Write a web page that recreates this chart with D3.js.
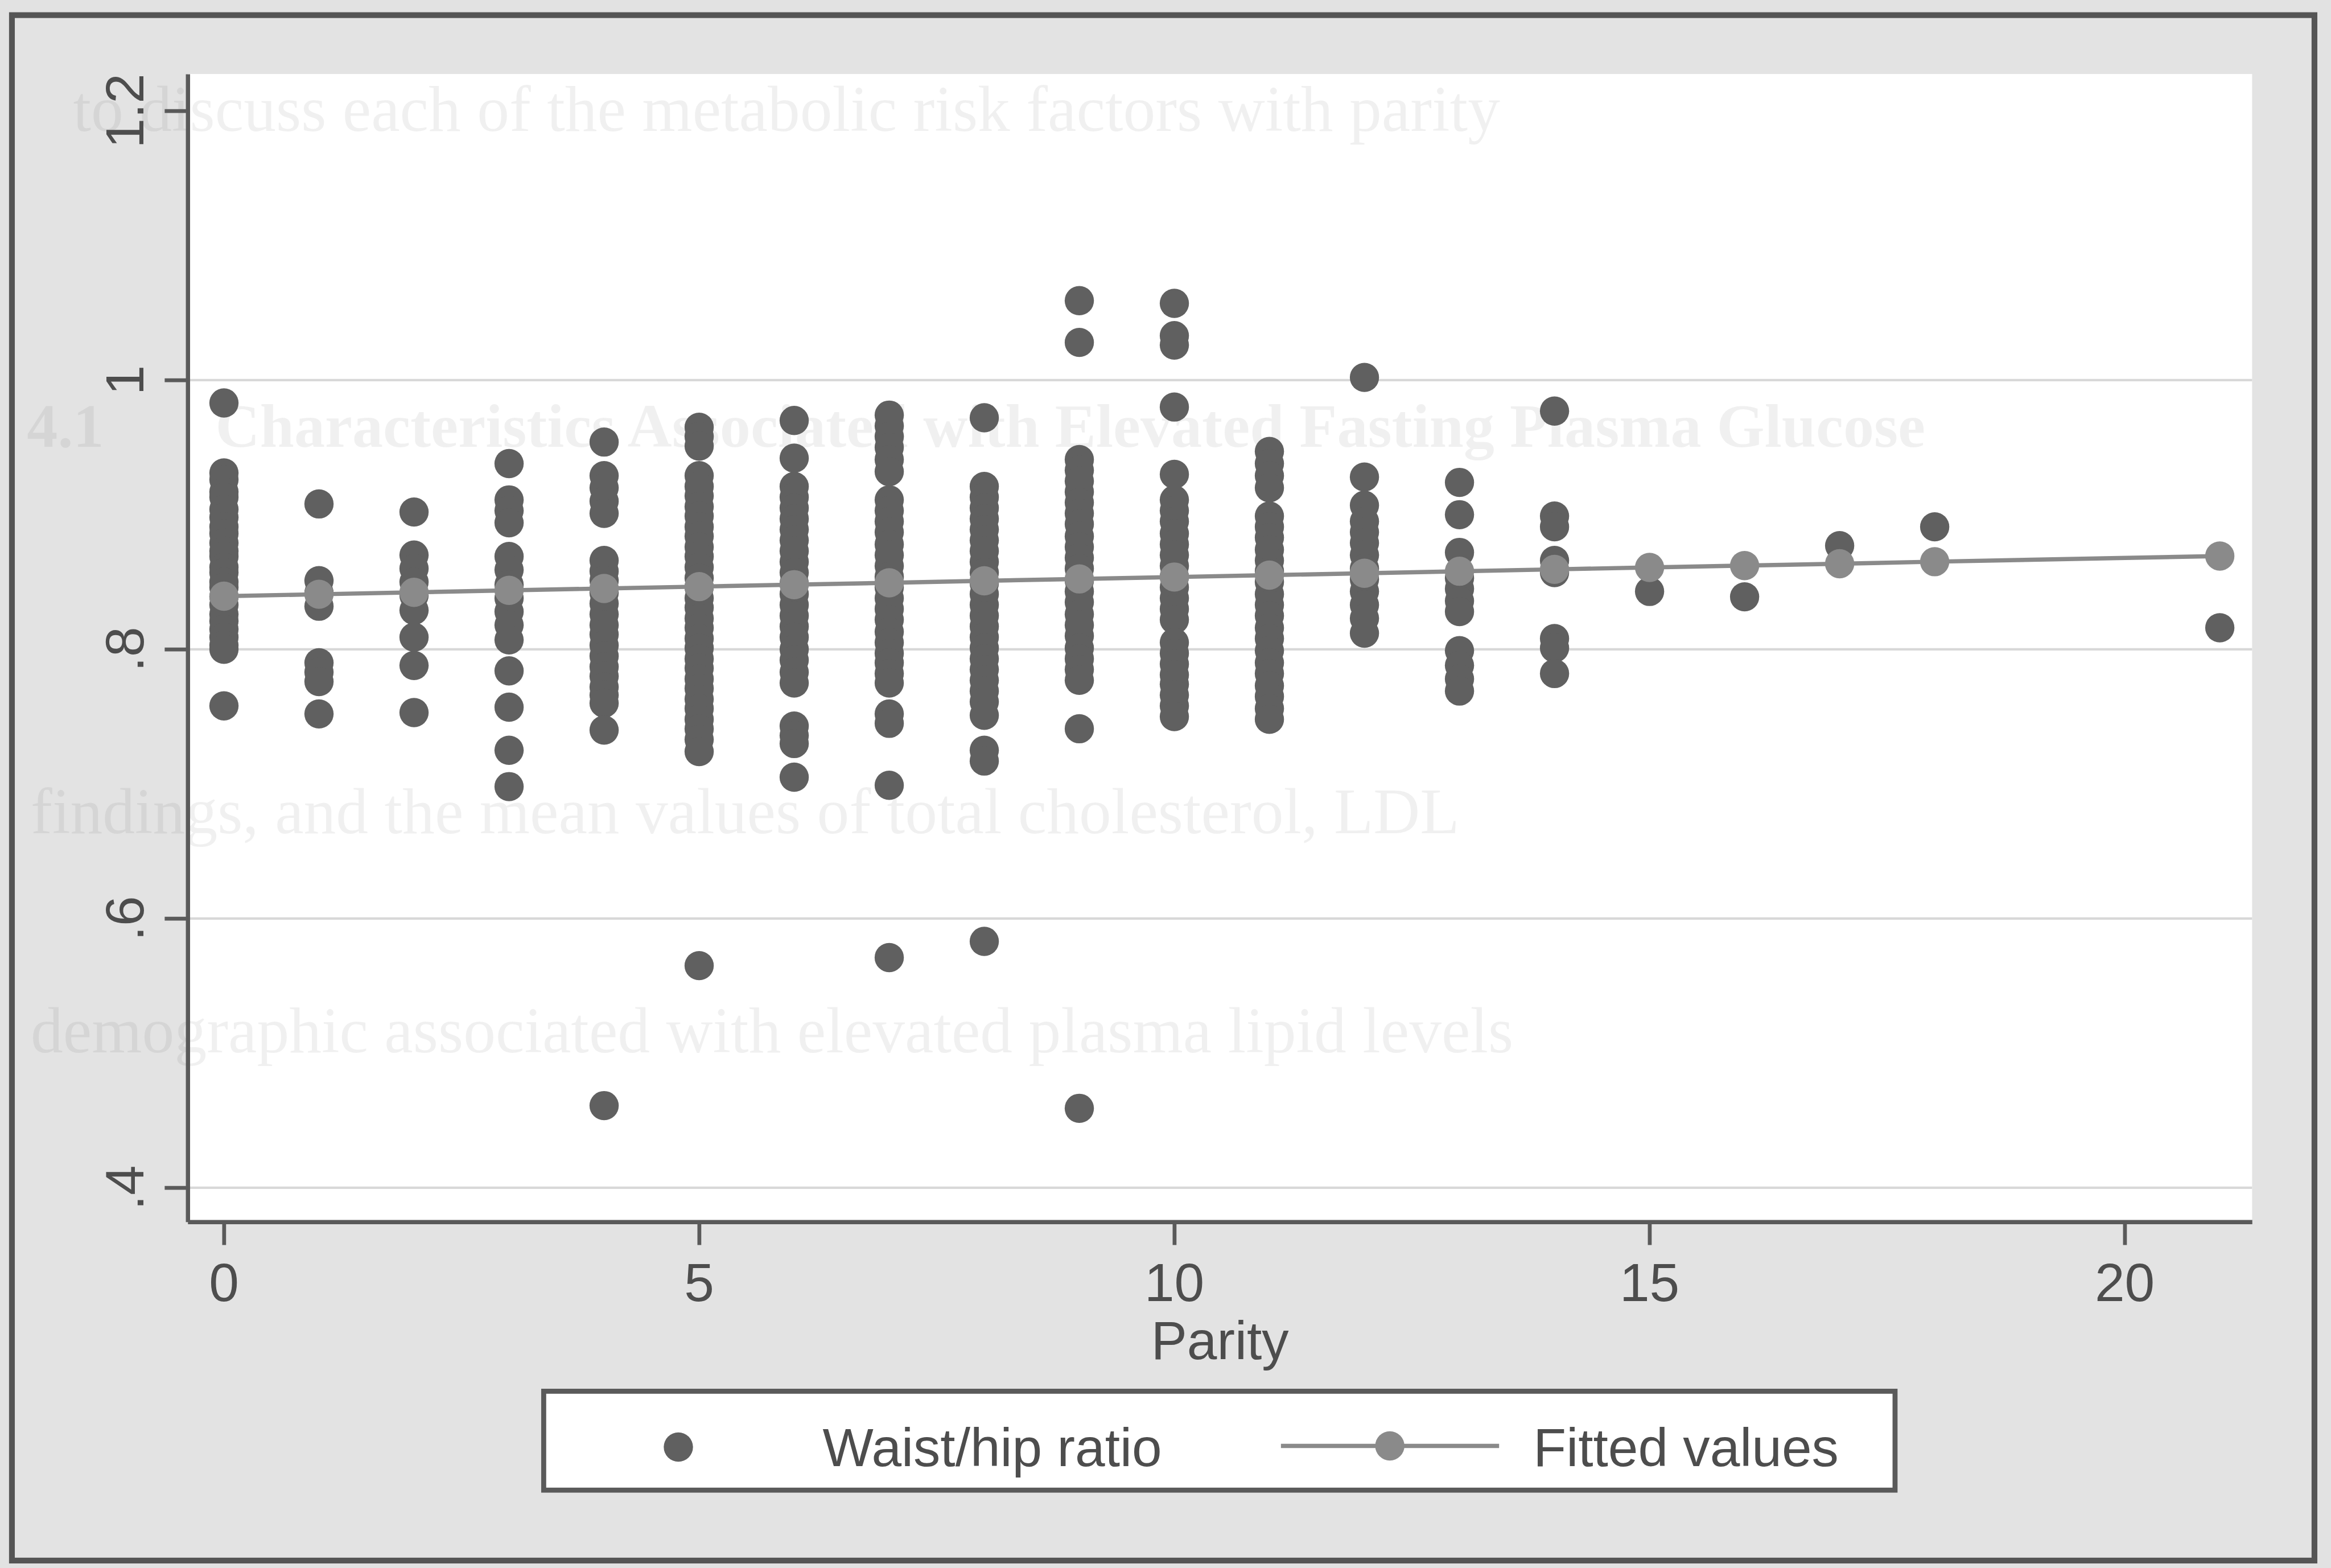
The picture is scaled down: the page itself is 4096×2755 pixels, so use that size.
<!DOCTYPE html>
<html>
<head>
<meta charset="utf-8">
<script src="https://cdn.jsdelivr.net/npm/d3@7/dist/d3.min.js"></script>
<style>
  html, body { margin: 0; padding: 0; background: #e2e2e2; }
  svg { display: block; }
  text { font-family: "Liberation Sans", Arial, sans-serif; }
  text.page { font-family: "Liberation Serif", "Times New Roman", serif; }
</style>
</head>
<body>
<svg id="chart"></svg>
<script>
// Waist/hip ratio by parity (each array holds the observations at one parity value)
const whrP0 = [0.983, 0.931, 0.926, 0.917, 0.913, 0.904, 0.898, 0.891, 0.886, 0.879, 0.873, 0.869, 0.861, 0.857, 0.850, 0.846, 0.839, 0.833, 0.826, 0.821, 0.815, 0.809, 0.803, 0.800, 0.758];
const whrP1 = [0.908, 0.851, 0.842, 0.832, 0.790, 0.783, 0.776, 0.752];
const whrP2 = [0.902, 0.870, 0.860, 0.850, 0.840, 0.829, 0.809, 0.788, 0.753];
const whrP3 = [0.938, 0.911, 0.903, 0.894, 0.869, 0.859, 0.848, 0.838, 0.828, 0.818, 0.807, 0.784, 0.757, 0.725, 0.698];
const whrP4 = [0.954, 0.929, 0.920, 0.910, 0.901, 0.866, 0.858, 0.851, 0.842, 0.834, 0.826, 0.818, 0.811, 0.803, 0.795, 0.787, 0.780, 0.772, 0.766, 0.760, 0.740, 0.461];
const whrP5 = [0.965, 0.958, 0.951, 0.929, 0.921, 0.914, 0.906, 0.899, 0.891, 0.884, 0.876, 0.869, 0.861, 0.853, 0.846, 0.838, 0.831, 0.823, 0.816, 0.808, 0.801, 0.793, 0.786, 0.778, 0.771, 0.763, 0.756, 0.748, 0.741, 0.733, 0.724, 0.565];
const whrP6 = [0.970, 0.942, 0.921, 0.913, 0.905, 0.897, 0.889, 0.881, 0.873, 0.865, 0.857, 0.849, 0.841, 0.833, 0.825, 0.817, 0.809, 0.800, 0.792, 0.783, 0.775, 0.743, 0.736, 0.730, 0.705];
const whrP7 = [0.974, 0.966, 0.958, 0.950, 0.941, 0.932, 0.911, 0.903, 0.895, 0.887, 0.878, 0.870, 0.862, 0.854, 0.846, 0.838, 0.830, 0.822, 0.813, 0.805, 0.797, 0.790, 0.782, 0.775, 0.752, 0.745, 0.699, 0.571];
const whrP8 = [0.972, 0.921, 0.913, 0.905, 0.897, 0.889, 0.881, 0.873, 0.865, 0.857, 0.849, 0.841, 0.833, 0.825, 0.817, 0.809, 0.801, 0.793, 0.785, 0.777, 0.769, 0.761, 0.751, 0.725, 0.717, 0.583];
const whrP9 = [1.059, 1.028, 0.941, 0.933, 0.925, 0.917, 0.909, 0.901, 0.893, 0.884, 0.876, 0.868, 0.860, 0.851, 0.843, 0.835, 0.826, 0.818, 0.810, 0.801, 0.793, 0.785, 0.777, 0.741, 0.459];
const whrP10 = [1.057, 1.033, 1.026, 0.980, 0.930, 0.911, 0.903, 0.895, 0.886, 0.878, 0.870, 0.862, 0.854, 0.846, 0.838, 0.830, 0.822, 0.805, 0.797, 0.789, 0.781, 0.774, 0.766, 0.758, 0.750];
const whrP11 = [0.947, 0.938, 0.929, 0.920, 0.899, 0.891, 0.883, 0.874, 0.866, 0.858, 0.850, 0.841, 0.833, 0.825, 0.816, 0.808, 0.799, 0.790, 0.782, 0.773, 0.765, 0.756, 0.748];
const whrP12 = [1.002, 0.928, 0.907, 0.895, 0.887, 0.879, 0.870, 0.860, 0.852, 0.843, 0.833, 0.823, 0.812];
const whrP13 = [0.924, 0.900, 0.872, 0.853, 0.845, 0.836, 0.828, 0.799, 0.788, 0.778, 0.769];
const whrP14 = [0.977, 0.899, 0.891, 0.866, 0.857, 0.808, 0.801, 0.782];
const whrP15 = [0.843];
const whrP16 = [0.839];
const whrP17 = [0.877];
const whrP18 = [0.891];
const whrP21 = [0.816];

const parityLevels = [0, 1, 2, 3, 4, 5, 6, 7, 8, 9, 10, 11, 12, 13, 14, 15, 16, 17, 18, 21];
const whrSeries = [whrP0, whrP1, whrP2, whrP3, whrP4, whrP5, whrP6, whrP7, whrP8, whrP9, whrP10,
                   whrP11, whrP12, whrP13, whrP14, whrP15, whrP16, whrP17, whrP18, whrP21];

// Linear fit of waist/hip ratio on parity, at each observed parity value
const fittedValues = [0.8395, 0.8409, 0.8423, 0.8438, 0.8452, 0.8466, 0.8480, 0.8494, 0.8509, 0.8523, 0.8537,
                      0.8551, 0.8565, 0.8580, 0.8594, 0.8608, 0.8622, 0.8636, 0.8651, 0.8693];

const xTicks = [0, 5, 10, 15, 20];
const yTicks = [0.4, 0.6, 0.8, 1.0, 1.2];
const yTickLabels = [".4", ".6", ".8", "1", "1.2"];
const xTitle = "Parity";
const legendLabels = ["Waist/hip ratio", "Fitted values"];

// faint lines of the printed page that show through the figure
const pageLines = [
  "to discuss each of the metabolic risk factors with parity",
  "4.1",
  "Characteristics Associated with Elevated Fasting Plasma Glucose",
  "findings, and the mean values of total cholesterol, LDL",
  "demographic associated with elevated plasma lipid levels"
];

// ---- drawing (coordinates in a 6058 x 4074 design space, scaled to the window) ----
const W = 6058, H = 4074;
const svg = d3.select("#chart")
  .attr("width", 4096).attr("height", 2755)
  .attr("viewBox", `0 0 ${W} ${H}`);

const dotColor = "#606060";
const fitColor = "#8a8a8a";
const axisColor = "#5a5a5a";
const textColor = "#4d4d4d";
const R = 38;

// page and graph region
svg.append("rect").attr("width", W).attr("height", H).attr("fill", "#e2e2e2");
svg.append("rect").attr("x", 31).attr("y", 39).attr("width", 5984).attr("height", 4016)
  .attr("fill", "#e3e3e3").attr("stroke", "#555555").attr("stroke-width", 15);

const plot = { left: 488, right: 5853, top: 192, bottom: 3175 };
svg.append("rect").attr("x", plot.left).attr("y", plot.top)
  .attr("width", plot.right - plot.left).attr("height", plot.bottom - plot.top)
  .attr("fill", "#ffffff");

// show-through text, very faint
const ghostPos = [[190, 340], [70, 1160], [560, 1160], [80, 2165], [80, 2735]];
const ghostSize = [168, 160, 160, 168, 168];
svg.append("g").selectAll("text").data(pageLines).join("text")
  .attr("class", "page")
  .attr("x", (d, i) => ghostPos[i][0]).attr("y", (d, i) => ghostPos[i][1])
  .attr("font-size", (d, i) => ghostSize[i])
  .attr("font-weight", (d, i) => (i === 1 || i === 2) ? "bold" : "normal")
  .attr("fill", "#000").attr("fill-opacity", 0.06)
  .text(d => d);

const x = d3.scaleLinear().domain([-0.3806, 21.34]).range([plot.left, plot.right]);
const y = d3.scaleLinear().domain([0.3746, 1.2274]).range([plot.bottom, plot.top]);

// horizontal grid lines
svg.append("g").selectAll("line")
  .data(yTicks.filter(v => v < 1.1))
  .join("line")
  .attr("x1", plot.left).attr("x2", plot.right)
  .attr("y1", d => y(d)).attr("y2", d => y(d))
  .attr("stroke", "#d8d8d8").attr("stroke-width", 6);

// axes
const yAxis = svg.append("g").attr("transform", `translate(${plot.left},0)`)
  .call(d3.axisLeft(y).tickValues(yTicks).tickSize(60).tickSizeOuter(0).tickFormat(""));
const xAxis = svg.append("g").attr("transform", `translate(0,${plot.bottom})`)
  .call(d3.axisBottom(x).tickValues(xTicks).tickSize(60).tickSizeOuter(0).tickFormat(""));
[yAxis, xAxis].forEach(g => {
  g.select(".domain").attr("stroke", axisColor).attr("stroke-width", 11);
  g.selectAll(".tick line").attr("stroke", axisColor).attr("stroke-width", 10);
});

// tick labels
svg.append("g").selectAll("text")
  .data(yTicks)
  .join("text")
  .attr("transform", d => `translate(372,${y(d)}) rotate(-90)`)
  .attr("text-anchor", "middle")
  .attr("font-size", 140).attr("fill", textColor)
  .text((d, i) => yTickLabels[i]);

svg.append("g").selectAll("text")
  .data(xTicks)
  .join("text")
  .attr("x", d => x(d)).attr("y", 3380)
  .attr("text-anchor", "middle")
  .attr("font-size", 140).attr("fill", textColor)
  .text(d => d);

svg.append("text").attr("x", (plot.left + plot.right) / 2).attr("y", 3532)
  .attr("text-anchor", "middle").attr("font-size", 140).attr("fill", textColor)
  .text(xTitle);

// scatter points
const points = [];
whrSeries.forEach((vals, i) => vals.forEach(v => points.push({ p: parityLevels[i], v })));
svg.append("g").selectAll("circle")
  .data(points)
  .join("circle")
  .attr("cx", d => x(d.p)).attr("cy", d => y(d.v)).attr("r", R)
  .attr("fill", dotColor);

// fitted line with markers
const fitData = parityLevels.map((p, i) => ({ p, v: fittedValues[i] }));
svg.append("path").datum(fitData)
  .attr("d", d3.line().x(d => x(d.p)).y(d => y(d.v)))
  .attr("fill", "none").attr("stroke", fitColor).attr("stroke-width", 11);
svg.append("g").selectAll("circle")
  .data(fitData)
  .join("circle")
  .attr("cx", d => x(d.p)).attr("cy", d => y(d.v)).attr("r", R)
  .attr("fill", fitColor);

// legend
const lg = svg.append("g");
lg.append("rect").attr("x", 1413).attr("y", 3615).attr("width", 3512).attr("height", 257)
  .attr("fill", "#ffffff").attr("stroke", "#5a5a5a").attr("stroke-width", 13);
lg.append("circle").attr("cx", 1763).attr("cy", 3760).attr("r", R).attr("fill", dotColor);
lg.append("text").attr("x", 2138).attr("y", 3810).attr("font-size", 140).attr("fill", textColor)
  .text(legendLabels[0]);
lg.append("line").attr("x1", 3329).attr("x2", 3896).attr("y1", 3757).attr("y2", 3757)
  .attr("stroke", fitColor).attr("stroke-width", 11);
lg.append("circle").attr("cx", 3612).attr("cy", 3757).attr("r", R).attr("fill", fitColor);
lg.append("text").attr("x", 3985).attr("y", 3810).attr("font-size", 140).attr("fill", textColor)
  .text(legendLabels[1]);
</script>
</body>
</html>
